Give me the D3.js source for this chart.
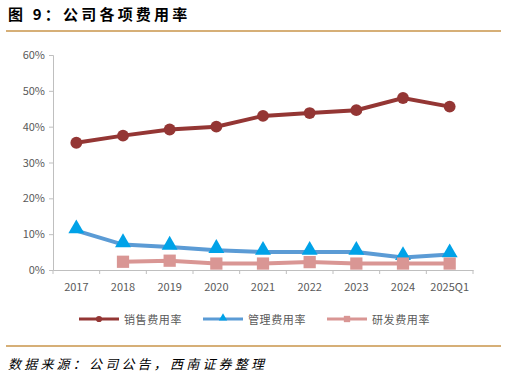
<!DOCTYPE html>
<html lang="zh">
<head>
    <meta charset="UTF-8">
    <title>公司各项费用率</title>
    <script src="https://cdn.jsdelivr.net/npm/d3@7/dist/d3.min.js"></script>
    <style>
        body { margin: 0; background: #fff; }
        svg text { font-family: "Noto Sans CJK SC", "Liberation Sans", sans-serif; }
    </style>
</head>
<body>
<script>
    // 数据
    let years = ['2017', '2018', '2019', '2020', '2021', '2022', '2023', '2024', '2025Q1'];
    let sales = [35.5, 37.5, 39.2, 40.0, 43.0, 43.8, 44.6, 48.0, 45.6];
    let admin = [11.0, 7.1, 6.4, 5.5, 5.0, 5.0, 5.0, 3.5, 4.3];
    let rnd = [null, 2.3, 2.6, 1.8, 1.8, 2.2, 1.8, 1.8, 1.8];
    let yTicks = [0, 10, 20, 30, 40, 50, 60];

    let width = 507, height = 378;
    let svg = d3.select('body').append('svg')
        .attr('width', width).attr('height', height);

    // 标题
    svg.append('text')
        .attr('x', 8).attr('y', 20)
        .attr('font-size', 15).attr('font-weight', 'bold')
        .attr('letter-spacing', 3.2)
        .attr('fill', '#000')
        .text('图 9：公司各项费用率');
    svg.append('line')
        .attr('x1', 6).attr('x2', 501).attr('y1', 31).attr('y2', 31)
        .attr('stroke', '#C8954A').attr('stroke-width', 1.5);

    // 比例尺
    let x = d3.scaleBand().domain(years).range([53, 473]);
    let y = d3.scaleLinear().domain([0, 60]).range([270, 55]);
    let cx = d => x(d) + x.bandwidth() / 2;

    // 坐标轴
    let yAxis = svg.append('g')
        .attr('transform', 'translate(53,0)')
        .call(d3.axisLeft(y).tickValues(yTicks).tickFormat(d => d + '%').tickSize(4).tickPadding(4));
    yAxis.selectAll('text').attr('font-size', 11).attr('fill', '#595959')
        .attr('font-family', '"Liberation Sans", sans-serif');

    let xAxis = svg.append('g')
        .attr('transform', 'translate(0,270)')
        .call(d3.axisBottom(x).tickSize(0).tickPadding(13));
    xAxis.selectAll('text').attr('font-size', 11).attr('fill', '#595959')
        .attr('font-family', '"Liberation Sans", sans-serif');
    // 分类边界刻度
    xAxis.selectAll('.bnd').data(d3.range(years.length + 1)).enter()
        .append('line')
        .attr('x1', i => 53 + i * x.step()).attr('x2', i => 53 + i * x.step())
        .attr('y1', 0).attr('y2', 4)
        .attr('stroke', '#BFBFBF');
    svg.selectAll('.domain').attr('stroke', '#BFBFBF');
    svg.selectAll('.tick line').attr('stroke', '#BFBFBF');

    let series = [
        { name: '销售费用率', values: sales, line: '#943634', mark: '#943634', shape: 'circle' },
        { name: '管理费用率', values: admin, line: '#5B9BD5', mark: '#00A2E8', shape: 'triangle' },
        { name: '研发费用率', values: rnd, line: '#D99694', mark: '#D99694', shape: 'square' }
    ];

    let symbolOf = s => s === 'circle' ? d3.symbolCircle : (s === 'triangle' ? d3.symbolTriangle : d3.symbolSquare);
    let sizeOf = s => s === 'circle' ? 110 : (s === 'triangle' ? 110 : 150);

    series.forEach(function (s) {
        let pts = years.map((yr, i) => ({ yr: yr, v: s.values[i] })).filter(d => d.v != null);
        let line = d3.line().x(d => cx(d.yr)).y(d => y(d.v));
        svg.append('path')
            .attr('d', line(pts))
            .attr('fill', 'none')
            .attr('stroke', s.line)
            .attr('stroke-width', 4);
        svg.selectAll(null).data(pts).enter()
            .append('path')
            .attr('d', d3.symbol().type(symbolOf(s.shape)).size(sizeOf(s.shape)))
            .attr('transform', d => 'translate(' + cx(d.yr) + ',' + (y(d.v) - (s.shape === 'triangle' ? 2 : 0)) + ')')
            .attr('fill', s.mark);
    });

    // 图例
    let legendX = [79, 203, 327];
    series.forEach(function (s, i) {
        let g = svg.append('g').attr('transform', 'translate(' + legendX[i] + ',319)');
        g.append('line').attr('x1', 0).attr('x2', 40).attr('y1', 0).attr('y2', 0)
            .attr('stroke', s.line).attr('stroke-width', 3);
        g.append('path')
            .attr('d', d3.symbol().type(symbolOf(s.shape)).size(s.shape === 'square' ? 40 : 30))
            .attr('transform', 'translate(20,' + (s.shape === 'triangle' ? -1 : 0) + ')')
            .attr('fill', s.mark);
        g.append('text').attr('x', 45).attr('y', 4.5)
            .attr('font-size', 11).attr('fill', '#595959')
            .attr('letter-spacing', 0.6)
            .text(s.name);
    });

    // 数据来源
    svg.append('line')
        .attr('x1', 6).attr('x2', 501).attr('y1', 346).attr('y2', 346)
        .attr('stroke', '#C8954A').attr('stroke-width', 1.5);
    svg.append('text')
        .attr('x', 8).attr('y', 369)
        .attr('font-size', 13).attr('font-style', 'italic')
        .attr('letter-spacing', 3.2)
        .attr('fill', '#000')
        .text('数据来源：公司公告，西南证券整理');
</script>
</body>
</html>
